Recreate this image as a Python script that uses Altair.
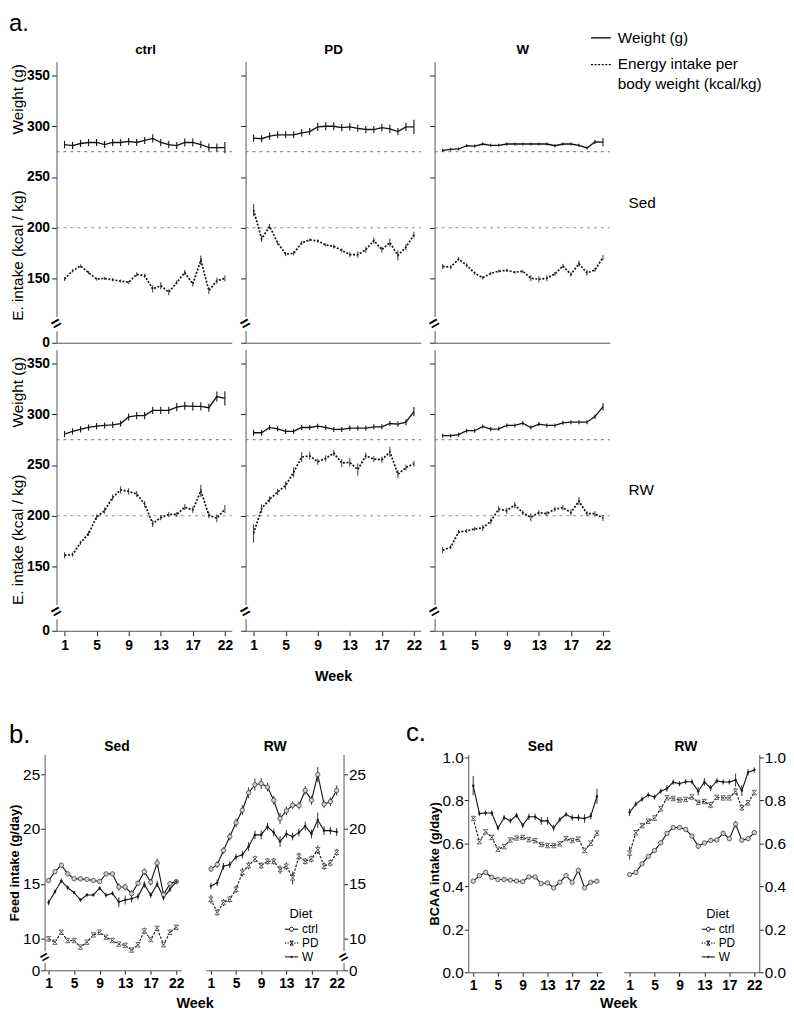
import altair as alt
import pandas as pd

# ---------------------------------------------------------------- data
week_index = list(range(1, 22))                 # 21 measured time points
week_tick_pos = [1, 5, 9, 13, 17, 21]
week_tick_lab = ["1", "5", "9", "13", "17", "22"]
diets = ["ctrl", "PD", "W"]

ref_weight = [275]
ref_intake = [200]
a_y_ticks = [150, 200, 250, 300, 350]
a_y_floor = 86.6          # bottom of broken axis, labelled 0
a_y_top = 363.7
a_break = 105

# panel a : Sed
a_sed_ctrl_wt = [282, 281, 283, 284, 284, 282, 284, 284, 285, 284, 286, 288, 284, 282, 281, 284, 284, 282, 279, 279, 279]
a_sed_ctrl_wt_sem = [3.5, 3.5, 3.5, 3.5, 3.5, 3.5, 3.5, 3.5, 3.5, 3.5, 3.5, 4, 3.5, 3.5, 3.5, 4, 4, 3.5, 4, 4, 5.5]
a_sed_ctrl_ei = [149.4, 157.5, 162.3, 155.8, 149.4, 150, 148.7, 147.4, 146.1, 154, 152.6, 139.6, 142.9, 136.4, 146, 155.8, 144.5, 168, 138, 147.7, 150]
a_sed_ctrl_ei_sem = [2, 1.5, 1.5, 1.5, 1.5, 1.5, 1.5, 1.5, 1.5, 2, 2, 3.5, 3.5, 3, 2, 2.5, 2.5, 4.5, 3.5, 3, 3]
a_sed_pd_wt = [288.3, 287.7, 290.3, 291.6, 291.6, 291.6, 293.5, 294.8, 299.4, 300, 300, 298.7, 299.4, 298, 296.8, 296.8, 298.7, 297.4, 294.8, 299.4, 299.4]
a_sed_pd_wt_sem = [3.5, 3.5, 3.5, 3.5, 3.5, 3.5, 3.5, 3.5, 4, 4, 4, 3.5, 3.5, 3.5, 3.5, 3.5, 3.5, 4, 3.5, 4, 7]
a_sed_pd_ei = [217.5, 189, 201.3, 185, 174, 174.7, 185, 188, 187, 183, 181.5, 177.6, 173.4, 173.4, 178.3, 187.4, 178.3, 185.4, 172.7, 180.8, 193]
a_sed_pd_ei_sem = [6, 3, 2.5, 2, 2, 2, 2, 1.5, 1.5, 1.5, 2, 2, 2.5, 3, 3, 3, 3, 4, 5, 3, 3]
a_sed_w_wt = [276.3, 277.3, 277.6, 280.8, 280.5, 282.5, 281.2, 281.2, 282.5, 282.5, 282.5, 282.5, 282.5, 282.5, 280.8, 282.5, 282.5, 281.2, 278.6, 284.5, 284.4]
a_sed_w_wt_sem = [1.5, 1.5, 1.5, 1.5, 1.5, 1.5, 1.5, 1.5, 1.5, 1.5, 1.5, 1.5, 1.5, 1.5, 1.5, 1.5, 1.5, 1.5, 1.5, 2, 4]
a_sed_w_ei = [161.7, 161.2, 169, 162.8, 155.2, 150.6, 155, 157.1, 158, 156.1, 157.1, 150.2, 149.2, 150.2, 154.5, 162.3, 154, 164.6, 155.5, 158.4, 170.7]
a_sed_w_ei_sem = [2.5, 2, 2, 2, 1.5, 1.5, 1.5, 1.5, 1.5, 1.5, 1.5, 3, 3, 3, 2, 2, 2, 3, 3, 2, 2.5]

# panel a : RW
a_rw_ctrl_wt = [280.5, 283.1, 285.1, 287, 288.3, 289, 289.6, 290.9, 297.4, 298.7, 298.7, 303.9, 303.9, 303.9, 307.1, 308.4, 307.8, 307.8, 306.5, 317.5, 315.6]
a_rw_ctrl_wt_sem = [3, 3, 3, 3, 3, 3, 3, 3, 3.5, 3.5, 3.5, 3.5, 3.5, 3.5, 4, 4, 4, 4, 4, 5, 7]
a_rw_ctrl_ei = [161, 161.7, 173.4, 182.5, 198.7, 205, 218, 225.5, 224, 221.4, 211.5, 192.2, 198.1, 201.3, 201.3, 208.4, 205.8, 224.5, 200.6, 197.5, 206.5]
a_rw_ctrl_ei_sem = [3, 2, 2, 2.5, 2.5, 3, 3, 3.5, 3, 3, 3, 3.5, 2.5, 2.5, 2.5, 3, 3, 6, 3, 4, 4]
a_rw_pd_wt = [281.8, 281.8, 287, 285.7, 283.1, 283.1, 287, 287, 288.3, 287, 285.1, 285.1, 286.4, 286.4, 286.4, 287.7, 287.7, 290.9, 290.3, 292.2, 302.6]
a_rw_pd_wt_sem = [3, 3, 2.5, 2.5, 2.5, 2.5, 2.5, 2.5, 2.5, 2.5, 2.5, 2.5, 2.5, 2.5, 2.5, 2.5, 2.5, 2.5, 2.5, 3, 4.5]
a_rw_pd_ei = [182.5, 207.1, 216.2, 223.4, 229.9, 242.9, 257.8, 259.1, 253.2, 256.5, 261.7, 252, 252.6, 245.5, 259.1, 255.8, 255.2, 263, 240.9, 247.4, 251.3]
a_rw_pd_ei_sem = [9, 4, 3, 3, 4, 5, 5, 4, 3, 3, 3, 4, 4, 6, 3, 3, 3, 5, 4, 3, 3]
a_rw_w_wt = [278.9, 278.9, 279.9, 283.8, 283.8, 288, 285.4, 285.7, 289, 289, 291.2, 287, 290.3, 289, 289, 291.6, 292.2, 292.2, 292.2, 297.7, 307.5]
a_rw_w_wt_sem = [2, 2, 2, 2, 2, 2, 2, 2, 2, 2, 2, 2, 2, 2, 2, 2, 2, 2, 2, 2, 3.5]
a_rw_w_ei = [166, 169, 184, 185, 187, 188, 194.5, 206.5, 205, 210.6, 203, 198.4, 203, 202, 206.5, 208, 203, 214.5, 202, 202, 197.7]
a_rw_w_ei_sem = [3, 2, 2, 2, 2, 3, 3, 3, 3, 3, 2.5, 4, 2.5, 2.5, 2.5, 2.5, 3, 4, 2.5, 2.5, 3]

# panel b : feed intake (g/day)
b_y_ticks = [10, 15, 20, 25]
b_y_floor = 7.1
b_y_top = 26.8
b_break = 8.3
b_sed_ctrl = [15.3, 16.1, 16.7, 15.9, 15.45, 15.45, 15.4, 15.3, 15.2, 15.9, 15.9, 14.7, 14.7, 14.1, 15.05, 16.1, 15.15, 16.9, 14.0, 15.0, 15.2]
b_sed_ctrl_sem = [0.2, 0.2, 0.2, 0.2, 0.15, 0.15, 0.15, 0.15, 0.15, 0.2, 0.2, 0.35, 0.3, 0.3, 0.25, 0.3, 0.3, 0.4, 0.3, 0.25, 0.2]
b_sed_pd = [9.97, 9.67, 10.57, 9.82, 9.82, 9.22, 9.67, 10.33, 10.57, 10.12, 9.82, 9.49, 9.37, 8.95, 9.43, 10.69, 9.91, 10.93, 9.43, 10.57, 11.02]
b_sed_pd_sem = [0.25, 0.2, 0.2, 0.2, 0.2, 0.2, 0.2, 0.2, 0.2, 0.2, 0.2, 0.2, 0.2, 0.2, 0.2, 0.3, 0.2, 0.2, 0.2, 0.2, 0.25]
b_sed_w = [13.28, 14.28, 15.27, 14.64, 14.19, 13.52, 13.98, 13.98, 14.6, 13.95, 14.13, 13.34, 13.52, 13.64, 13.83, 14.94, 13.95, 14.97, 13.73, 14.49, 15.2]
b_sed_w_sem = [0.25, 0.2, 0.2, 0.2, 0.15, 0.15, 0.15, 0.15, 0.15, 0.2, 0.2, 0.45, 0.4, 0.35, 0.3, 0.3, 0.25, 0.3, 0.25, 0.25, 0.2]
b_rw_ctrl = [16.36, 16.75, 18.04, 19.31, 20.57, 21.72, 23.31, 24.05, 24.15, 23.83, 22.62, 20.96, 21.66, 22.17, 22.14, 23.52, 22.62, 24.97, 22.26, 22.5, 23.52]
b_rw_ctrl_sem = [0.3, 0.3, 0.3, 0.35, 0.4, 0.45, 0.5, 0.55, 0.5, 0.4, 0.4, 0.5, 0.4, 0.35, 0.35, 0.4, 0.4, 0.7, 0.35, 0.4, 0.45]
b_rw_pd = [13.58, 12.38, 13.28, 13.58, 14.49, 16.05, 16.66, 17.26, 16.66, 17.05, 17.05, 16.3, 16.6, 15.54, 17.5, 17.05, 17.26, 18.1, 16.6, 16.9, 17.86]
b_rw_pd_sem = [0.4, 0.3, 0.3, 0.3, 0.35, 0.4, 0.35, 0.3, 0.3, 0.3, 0.3, 0.4, 0.35, 0.6, 0.35, 0.3, 0.3, 0.4, 0.35, 0.3, 0.3]
b_rw_w = [14.79, 15.09, 16.6, 16.75, 17.44, 17.65, 18.4, 19.46, 19.46, 20.21, 19.67, 18.86, 19.55, 19.31, 19.67, 20.27, 19.55, 20.81, 19.85, 19.85, 19.73]
b_rw_w_sem = [0.3, 0.3, 0.3, 0.3, 0.3, 0.35, 0.4, 0.4, 0.4, 0.35, 0.35, 0.5, 0.35, 0.35, 0.35, 0.4, 0.4, 0.7, 0.4, 0.35, 0.35]

# panel c : BCAA intake (g/day)
c_y_ticks = [0.0, 0.2, 0.4, 0.6, 0.8, 1.0]
c_y_top = 1.014
c_sed_ctrl = [0.424, 0.45, 0.465, 0.442, 0.432, 0.432, 0.429, 0.425, 0.422, 0.444, 0.444, 0.413, 0.416, 0.393, 0.419, 0.45, 0.419, 0.475, 0.393, 0.419, 0.424]
c_sed_ctrl_sem = [0.008, 0.008, 0.008, 0.008, 0.006, 0.006, 0.006, 0.006, 0.006, 0.008, 0.008, 0.008, 0.008, 0.008, 0.008, 0.008, 0.008, 0.01, 0.008, 0.008, 0.008]
c_sed_pd = [0.716, 0.608, 0.654, 0.628, 0.573, 0.585, 0.616, 0.625, 0.628, 0.618, 0.613, 0.595, 0.59, 0.59, 0.598, 0.622, 0.613, 0.62, 0.567, 0.601, 0.648]
c_sed_pd_sem = [0.012, 0.01, 0.01, 0.01, 0.01, 0.01, 0.01, 0.01, 0.01, 0.01, 0.01, 0.01, 0.01, 0.01, 0.01, 0.01, 0.01, 0.01, 0.012, 0.01, 0.012]
c_sed_w = [0.869, 0.739, 0.742, 0.742, 0.672, 0.72, 0.705, 0.731, 0.684, 0.724, 0.724, 0.705, 0.705, 0.672, 0.711, 0.735, 0.72, 0.72, 0.716, 0.727, 0.819]
c_sed_w_sem = [0.045, 0.012, 0.012, 0.012, 0.012, 0.012, 0.012, 0.012, 0.012, 0.015, 0.015, 0.018, 0.018, 0.015, 0.012, 0.012, 0.015, 0.015, 0.02, 0.015, 0.035]
c_rw_ctrl = [0.455, 0.465, 0.505, 0.54, 0.567, 0.603, 0.647, 0.674, 0.674, 0.665, 0.634, 0.587, 0.602, 0.614, 0.616, 0.647, 0.622, 0.69, 0.615, 0.622, 0.65]
c_rw_ctrl_sem = [0.008, 0.008, 0.008, 0.008, 0.008, 0.008, 0.01, 0.01, 0.01, 0.01, 0.01, 0.012, 0.01, 0.01, 0.01, 0.01, 0.01, 0.015, 0.01, 0.01, 0.01]
c_rw_pd = [0.555, 0.65, 0.683, 0.703, 0.718, 0.761, 0.813, 0.809, 0.802, 0.805, 0.816, 0.791, 0.795, 0.779, 0.815, 0.812, 0.812, 0.843, 0.766, 0.789, 0.837]
c_rw_pd_sem = [0.03, 0.012, 0.012, 0.012, 0.012, 0.012, 0.012, 0.01, 0.01, 0.01, 0.01, 0.012, 0.012, 0.015, 0.01, 0.01, 0.01, 0.015, 0.015, 0.012, 0.012]
c_rw_w = [0.745, 0.783, 0.806, 0.826, 0.816, 0.843, 0.856, 0.885, 0.878, 0.887, 0.887, 0.843, 0.886, 0.858, 0.891, 0.886, 0.886, 0.895, 0.846, 0.931, 0.942]
c_rw_w_sem = [0.018, 0.012, 0.012, 0.012, 0.012, 0.012, 0.015, 0.012, 0.012, 0.012, 0.012, 0.02, 0.018, 0.015, 0.012, 0.012, 0.012, 0.03, 0.025, 0.015, 0.012]

# ---------------------------------------------------------------- layout (page pixels)
M = 8                     # page margin
W = 786
H = 1009
SANS = "Liberation Sans, Arial, sans-serif"
NARROW = "Liberation Sans Narrow, Arial Narrow, Liberation Sans, sans-serif"

A_COLS = {"ctrl": (57, 234), "PD": (248, 425), "W": (439, 616)}
A_ROWS = {"Sed": (57, 341), "RW": (348, 632)}
A_XDOM = [0, 21.85]
BC_COLS = {("b", "Sed"): (45, 183), ("b", "RW"): (208, 347),
           ("c", "Sed"): (473, 608), ("c", "RW"): (630, 767)}
BC_XDOM = {("b", "Sed"): [0.38, 21.77], ("b", "RW"): [0.213, 22.1],
           ("c", "Sed"): [0.2, 21.8], ("c", "RW"): [0.048, 21.8]}
BC_ROWS = {"b": (757, 975), "c": (757, 977)}

ONE = pd.DataFrame({"k": [0]})
HOURGLASS = "M-1,-1L1,-1L-1,1L1,1Z"
MARKERS = {  # diet -> (shape, size, fill)
    "ctrl": ("circle", 20, "#cfcfcf"),
    "PD": (HOURGLASS, 20, "#ffffff"),
    "W": ("circle", 5, "#111111"),
}


def px(v):
    return v - M


def x_label_expr():
    expr = "datum.label"
    for p, lab in zip(week_tick_pos, week_tick_lab):
        if str(p) != lab:
            expr = f"datum.value == {p} ? '{lab}' : " + expr
    return expr


XLAB = x_label_expr()


def txt(s, x, y, size=13, weight="normal", align="left", baseline="middle", angle=None, font=SANS):
    kw = dict(text=s, fontSize=size, fontWeight=weight, align=align, baseline=baseline,
              font=font, color="black")
    if angle is not None:
        kw["angle"] = angle
    return alt.Chart(ONE).mark_text(**kw).encode(x=alt.value(px(x)), y=alt.value(px(y)))


def hline(x0, x1, y, dash=None):
    kw = dict(color="black", strokeWidth=1.3)
    if dash:
        kw["strokeDash"] = dash
    return alt.Chart(ONE).mark_rule(**kw).encode(
        x=alt.value(px(x0)), x2=alt.value(px(x1)), y=alt.value(px(y)))


# ---------------------------------------------------------------- panel a cells
def a_panel(cond, diet, wt, wt_sem, ei, ei_sem):
    x0, x1 = A_COLS[diet]
    y0, y1 = A_ROWS[cond]
    first = diet == "ctrl"
    bottom = cond == "RW"
    df = pd.DataFrame({"week": week_index, "wt": wt, "wt_sem": wt_sem, "ei": ei, "ei_sem": ei_sem})
    df["wt_lo"] = df["wt"] - df["wt_sem"]
    df["wt_hi"] = df["wt"] + df["wt_sem"]
    df["ei_lo"] = df["ei"] - df["ei_sem"]
    df["ei_hi"] = df["ei"] + df["ei_sem"]

    xs = alt.Scale(domain=A_XDOM, range=[px(x0), px(x1)], nice=False, zero=False)
    ys = alt.Scale(domain=[a_y_floor, a_y_top], range=[px(y1), px(y0)], nice=False, zero=False)
    xkw = dict(orient="bottom", offset=px(y1) - H, values=week_tick_pos, labelExpr=XLAB,
               labels=bottom, ticks=bottom, tickSize=5, tickColor="#222", domainColor="#555",
               grid=False, labelFont=NARROW, labelFontWeight="bold", labelFontSize=14,
               labelColor="black", labelPadding=3, title=None)
    if bottom and diet == "PD":
        xkw.update(title="Week", titleFont=SANS, titleFontSize=14.5, titleFontWeight="bold",
                   titleColor="black", titlePadding=17)
    xaxis = alt.Axis(**xkw)
    yaxis = alt.Axis(orient="left", offset=-px(x0), values=[a_y_floor] + a_y_ticks,
                     labelExpr="datum.value < 100 ? '0' : datum.label", labels=first,
                     tickSize=5, tickColor="#222", domainColor="#555", grid=False,
                     labelFont=NARROW, labelFontWeight="bold", labelFontSize=14,
                     labelColor="black", labelPadding=2, title=None)
    X = alt.X("week:Q", scale=xs, axis=xaxis)

    def Y(f):
        return alt.Y(f, type="quantitative", scale=ys, axis=yaxis)

    refs = alt.Chart(pd.DataFrame({"v": ref_weight + ref_intake})).mark_rule(
        color="#8c8c8c", strokeDash=[3, 4], strokeWidth=1.1).encode(
        y=Y("v"), x=alt.value(px(x0)), x2=alt.value(px(x1)))
    wt_line = alt.Chart(df).mark_line(color="#111", strokeWidth=1.3).encode(x=X, y=Y("wt"))
    wt_err = alt.Chart(df).mark_rule(color="#111", strokeWidth=1.1).encode(x=X, y=Y("wt_lo"), y2="wt_hi")
    ei_line = alt.Chart(df).mark_line(color="#111", strokeWidth=1.7, strokeDash=[2, 1.6]).encode(x=X, y=Y("ei"))
    ei_err = alt.Chart(df).mark_rule(color="#222", strokeWidth=0.9).encode(x=X, y=Y("ei_lo"), y2="ei_hi")
    bdf = pd.DataFrame({"v": [a_break], "lo": [a_break - 7], "hi": [a_break + 7]})
    gap = alt.Chart(bdf).mark_rule(color="white", strokeWidth=4).encode(
        x=alt.value(px(x0)), y=Y("lo"), y2="hi")
    brk = alt.Chart(bdf).mark_text(text="=", angle=330, fontSize=17, fontWeight="bold",
                                   font=SANS, color="black").encode(x=alt.value(px(x0)), y=Y("v"))
    return alt.layer(refs, wt_line, wt_err, ei_line, ei_err, gap, brk)


# ---------------------------------------------------------------- panels b / c
def bc_panel(kind, cond, ctrl, ctrl_sem, pdv, pd_sem, wv, w_sem):
    x0, x1 = BC_COLS[(kind, cond)]
    y0, y1 = BC_ROWS[kind]
    rows = []
    for d, vals, sems in (("ctrl", ctrl, ctrl_sem), ("PD", pdv, pd_sem), ("W", wv, w_sem)):
        for wk, v, s in zip(week_index, vals, sems):
            rows.append({"week": wk, "val": v, "lo": v - s, "hi": v + s, "diet": d})
    df = pd.DataFrame(rows)

    xs = alt.Scale(domain=BC_XDOM[(kind, cond)], range=[px(x0), px(x1)], nice=False, zero=False)
    if kind == "b":
        ys = alt.Scale(domain=[b_y_floor, b_y_top], range=[px(y1), px(y0)], nice=False, zero=False)
        yvals = [b_y_floor] + b_y_ticks
        ykw = dict(values=yvals, labelExpr="datum.value < 8 ? '0' : datum.label")
        ytitle = "Feed intake (g/day)"
    else:
        ys = alt.Scale(domain=[0, c_y_top], range=[px(y1), px(y0)], nice=False, zero=False)
        ykw = dict(values=c_y_ticks, format=".1f")
        ytitle = "BCAA intake (g/day)"
    if cond == "Sed":
        ykw.update(orient="left", offset=-px(x0), title=ytitle, titleFont=SANS,
                   titleFontSize=13, titleFontWeight="bold", titleColor="black", titlePadding=1)
    else:
        ykw.update(orient="right", offset=px(x1) - W, title=None)
    yaxis = alt.Axis(tickSize=4, tickColor="#222", domainColor="#555", grid=False,
                     labelFont=SANS, labelFontSize=15.5, labelColor="black", labelPadding=1, **ykw)
    xaxis = alt.Axis(orient="bottom", offset=px(y1) - H, values=week_tick_pos, labelExpr=XLAB,
                     tickSize=4, tickColor="#222", domainColor="#555", grid=False,
                     labelFont=NARROW, labelFontWeight="bold", labelFontSize=14,
                     labelColor="black", labelPadding=2, title=None)
    X = alt.X("week:Q", scale=xs, axis=xaxis)

    def Y(f):
        return alt.Y(f, type="quantitative", scale=ys, axis=yaxis)

    err = alt.Chart(df).mark_rule(color="#333", strokeWidth=1).encode(x=X, y=Y("lo"), y2="hi", detail="diet:N")
    line = alt.Chart(df).mark_line(color="#111", strokeWidth=1.1).encode(
        x=X, y=Y("val"), detail="diet:N",
        strokeDash=alt.StrokeDash("diet:N", scale=alt.Scale(domain=diets, range=[[1, 0], [2.5, 1.5], [1, 0]]), legend=None))
    layers = [err, line]
    for d in diets:
        shp, sz, fil = MARKERS[d]
        layers.append(
            alt.Chart(df).transform_filter(alt.datum.diet == d).mark_point(
                shape=shp, size=sz, fill=fil, filled=True, stroke="#333",
                strokeWidth=(0.7 if d != "W" else 0.4), opacity=1).encode(x=X, y=Y("val")))
    if kind == "b":
        bx = x0 if cond == "Sed" else x1
        bdf = pd.DataFrame({"v": [b_break], "lo": [b_break - 0.55], "hi": [b_break + 0.55]})
        layers.append(alt.Chart(bdf).mark_rule(color="white", strokeWidth=4).encode(
            x=alt.value(px(bx)), y=Y("lo"), y2="hi"))
        layers.append(alt.Chart(bdf).mark_text(text="=", angle=330, fontSize=15, fontWeight="bold",
                                               font=SANS, color="black").encode(x=alt.value(px(bx)), y=Y("v")))
    return alt.layer(*layers)


LEG_PATHS = [
    "M-1,0L-0.32,0M0.32,0L1,0M-0.3,0A0.3,0.3 0 1,1 0.3,0A0.3,0.3 0 1,1 -0.3,0Z",
    "M-1,0L-0.8,0M-0.62,0L-0.42,0M0.42,0L0.62,0M0.8,0L1,0M-0.25,-0.3L0.25,-0.3L-0.25,0.3L0.25,0.3Z",
    "M-1,0L1,0M-0.1,0A0.1,0.1 0 1,1 0.1,0A0.1,0.1 0 1,1 -0.1,0Z",
]


def diet_legend(x, y):
    return alt.Chart(pd.DataFrame({"Diet": diets})).transform_filter("false").mark_point(
        color="black", filled=False, strokeWidth=1, opacity=1).encode(
        shape=alt.Shape("Diet:N", scale=alt.Scale(domain=diets, range=LEG_PATHS),
                        legend=alt.Legend(title="Diet", orient="none", legendX=px(x), legendY=px(y),
                                          titleFont=SANS, titleFontSize=13, titleFontWeight="normal",
                                          titleColor="black", titleAnchor="middle", titlePadding=1,
                                          labelFont=SANS, labelFontSize=12, labelColor="black",
                                          labelOffset=3, symbolSize=180, symbolStrokeWidth=1,
                                          symbolStrokeColor="black", rowPadding=0, padding=0)))


# ---------------------------------------------------------------- assemble
layers = [
    a_panel("Sed", "ctrl", a_sed_ctrl_wt, a_sed_ctrl_wt_sem, a_sed_ctrl_ei, a_sed_ctrl_ei_sem),
    a_panel("Sed", "PD", a_sed_pd_wt, a_sed_pd_wt_sem, a_sed_pd_ei, a_sed_pd_ei_sem),
    a_panel("Sed", "W", a_sed_w_wt, a_sed_w_wt_sem, a_sed_w_ei, a_sed_w_ei_sem),
    a_panel("RW", "ctrl", a_rw_ctrl_wt, a_rw_ctrl_wt_sem, a_rw_ctrl_ei, a_rw_ctrl_ei_sem),
    a_panel("RW", "PD", a_rw_pd_wt, a_rw_pd_wt_sem, a_rw_pd_ei, a_rw_pd_ei_sem),
    a_panel("RW", "W", a_rw_w_wt, a_rw_w_wt_sem, a_rw_w_ei, a_rw_w_ei_sem),
    bc_panel("b", "Sed", b_sed_ctrl, b_sed_ctrl_sem, b_sed_pd, b_sed_pd_sem, b_sed_w, b_sed_w_sem),
    bc_panel("b", "RW", b_rw_ctrl, b_rw_ctrl_sem, b_rw_pd, b_rw_pd_sem, b_rw_w, b_rw_w_sem),
    bc_panel("c", "Sed", c_sed_ctrl, c_sed_ctrl_sem, c_sed_pd, c_sed_pd_sem, c_sed_w, c_sed_w_sem),
    bc_panel("c", "RW", c_rw_ctrl, c_rw_ctrl_sem, c_rw_pd, c_rw_pd_sem, c_rw_w, c_rw_w_sem),
    diet_legend(287, 912),
    diet_legend(708, 912),
    # panel letters
    txt("a.", 9, 26, size=24, baseline="alphabetic"),
    txt("b.", 9, 745, size=26, baseline="alphabetic"),
    txt("c.", 410, 743, size=26, baseline="alphabetic"),
    # panel a headers
    txt("ctrl", 147, 45, size=13.5, weight="bold", align="center"),
    txt("PD", 337, 45, size=13.5, weight="bold", align="center"),
    txt("W", 528, 45, size=13.5, weight="bold", align="center"),
    txt("Sed", 635, 200, size=15.5),
    txt("RW", 635, 490, size=15.5),
    txt("Weight (g)", 18, 95, size=15.5, align="center", angle=270),
    txt("E. intake (kcal / kg)", 18, 253, size=15.5, align="center", angle=270),
    txt("Weight (g)", 18, 391, size=15.5, align="center", angle=270),
    txt("E. intake (kcal / kg)", 18, 540, size=15.5, align="center", angle=270),
    # panel a legend
    hline(597, 617, 33),
    hline(597, 617, 60, dash=[2, 1.6]),
    txt("Weight (g)", 624, 33, size=15.5),
    txt("Energy intake per", 624, 59, size=15.5),
    txt("body weight (kcal/kg)", 624, 80, size=15.5),
    # panels b / c headers and x titles
    txt("Sed", 118, 749, size=14, weight="bold", align="center"),
    txt("RW", 278, 749, size=14, weight="bold", align="center"),
    txt("Sed", 546, 749, size=14, weight="bold", align="center"),
    txt("RW", 693, 749, size=14, weight="bold", align="center"),
    txt("Week", 197, 1009, size=14.5, weight="bold", align="center"),
    txt("Week", 625, 1009, size=14.5, weight="bold", align="center"),
]

chart = (
    alt.layer(*layers)
    .resolve_scale(x="independent", y="independent", shape="independent", strokeDash="independent")
    .resolve_axis(x="independent", y="independent")
    .resolve_legend(shape="independent")
    .properties(width=W, height=H, padding=0, autosize=alt.AutoSizeParams(type="none"))
    .configure_view(stroke=None)
)

chart.save("out.html", embed_options={"renderer": "svg", "actions": False})
